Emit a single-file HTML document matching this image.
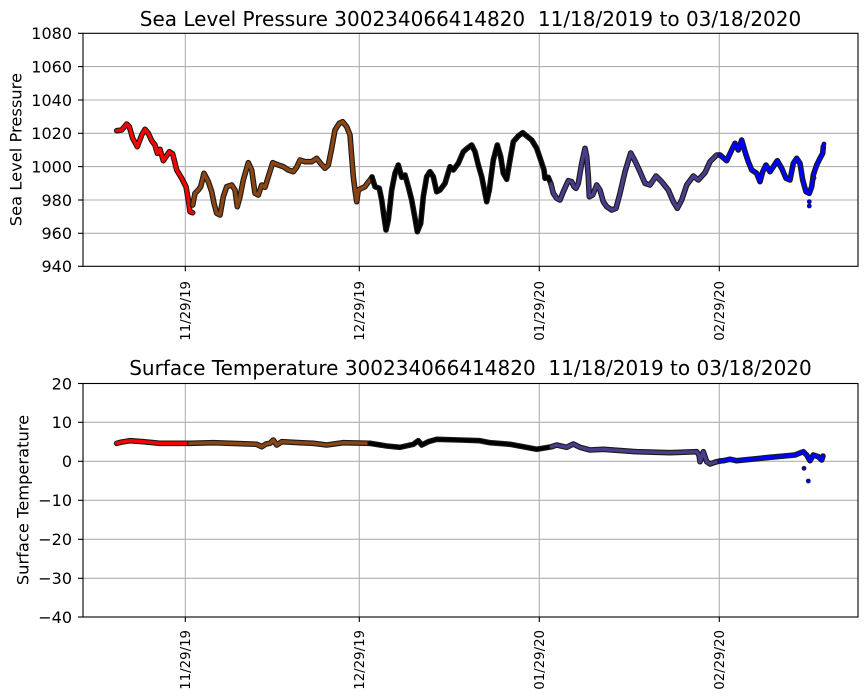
<!DOCTYPE html>
<html><head><meta charset="utf-8"><style>
html,body{margin:0;padding:0;background:#fff;}
svg{display:block;}
text{font-family:"DejaVu Sans","Liberation Sans",sans-serif;fill:#000;}
.g{stroke:#b0b0b0;stroke-width:1.1;}
.ax{fill:none;stroke:#000;stroke-width:1.1;}
.tk{stroke:#000;stroke-width:1.1;}
.yt{font-size:16px;text-anchor:end;}
.xt{font-size:13.3px;text-anchor:end;}
.o{fill:none;stroke:#1a1a1a;stroke-width:5.6;stroke-linejoin:round;stroke-linecap:round;}
.i{fill:none;stroke-width:3.4;stroke-linejoin:round;stroke-linecap:round;}
</style></head><body>
<svg width="867" height="700" viewBox="0 0 867 700" xmlns="http://www.w3.org/2000/svg">
<!-- ============ TOP AXES ============ -->
<g>
<line class="g" x1="83" y1="66.6" x2="858" y2="66.6"/>
<line class="g" x1="83" y1="100" x2="858" y2="100"/>
<line class="g" x1="83" y1="133.3" x2="858" y2="133.3"/>
<line class="g" x1="83" y1="166.6" x2="858" y2="166.6"/>
<line class="g" x1="83" y1="200" x2="858" y2="200"/>
<line class="g" x1="83" y1="233.3" x2="858" y2="233.3"/>
<line class="g" x1="185.3" y1="33.3" x2="185.3" y2="266.3"/>
<line class="g" x1="359.3" y1="33.3" x2="359.3" y2="266.3"/>
<line class="g" x1="539.3" y1="33.3" x2="539.3" y2="266.3"/>
<line class="g" x1="719.3" y1="33.3" x2="719.3" y2="266.3"/>

<!-- pressure series -->
<polyline class="o" points="116.7,130.7 121.7,130 126.7,124 129.3,126.7 132.7,138.3 137.3,146.7 141.7,135 145,129.3 148.3,133.3 151.7,140.7 155,145 157.3,153.3 160,149.3 163.3,160.7 166,156.7 169.3,151.7 172.7,154 176.7,170 181.7,178.3 186,186.7 188.3,200 190,211.7 192.7,212.7"/>
<polyline class="i" stroke="#ff0000" points="116.7,130.7 121.7,130 126.7,124 129.3,126.7 132.7,138.3 137.3,146.7 141.7,135 145,129.3 148.3,133.3 151.7,140.7 155,145 157.3,153.3 160,149.3 163.3,160.7 166,156.7 169.3,151.7 172.7,154 176.7,170 181.7,178.3 186,186.7 188.3,200 190,211.7 192.7,212.7"/>

<polyline class="o" points="192.7,205 195,193.3 198.3,190 200.7,186.7 204,173.3 208.3,181.7 211.7,191.7 214,203.3 216.7,213.3 220,215 223.3,196.7 226.7,186.7 231.7,185 235,190 237.3,206.7 240,196.7 243.3,180 248.3,162.7 251.7,170 255,193.3 258.3,195 261.7,185 265,187.3 268.3,176.7 272.7,162.7 278.3,165 283.3,166.7 288.3,170 293.3,171.7 296.7,167.3 300,160 305,161.7 311.7,161.7 316.7,158.3 320,162.7 325,168.3 328.3,165 331.7,148.3 335,130 339.3,123.3 342.7,121.7 346.7,126.7 350,135 351.7,156.7 353.3,176.7 355,190 356.7,201.7 358.3,190 361.7,188.3 365,186.7 367.3,183.3 370,180 372,177"/>
<polyline class="i" stroke="#8b4513" points="192.7,205 195,193.3 198.3,190 200.7,186.7 204,173.3 208.3,181.7 211.7,191.7 214,203.3 216.7,213.3 220,215 223.3,196.7 226.7,186.7 231.7,185 235,190 237.3,206.7 240,196.7 243.3,180 248.3,162.7 251.7,170 255,193.3 258.3,195 261.7,185 265,187.3 268.3,176.7 272.7,162.7 278.3,165 283.3,166.7 288.3,170 293.3,171.7 296.7,167.3 300,160 305,161.7 311.7,161.7 316.7,158.3 320,162.7 325,168.3 328.3,165 331.7,148.3 335,130 339.3,123.3 342.7,121.7 346.7,126.7 350,135 351.7,156.7 353.3,176.7 355,190 356.7,201.7 358.3,190 361.7,188.3 365,186.7 367.3,183.3 370,180 372,177"/>

<polyline class="o" points="372,177 375,186.7 379.3,188.3 381.7,200 384,216.7 386,230 388.3,220 391.7,190 395,173.3 398.3,165 401.7,177.3 405,175 408.3,186.7 411.7,200 415,218.3 417.3,231.7 420.7,223.3 423.3,196.7 426.7,176.7 430,171.7 433.3,176.7 436.7,191.7 440,190 445,183.3 450,166.7 453.3,170 458.3,163.3 463.3,151.7 467.3,148.3 471.7,145 475,151.7 478.3,165 481.7,176.7 486.7,201.7 489.3,190 493.3,160 497.3,145 500.7,156.7 503.3,173.3 506.7,179.3 510,160 513.3,141.7 518.3,136 522.7,132.7 526.7,136 531.7,140 536.7,148.3 540.7,160 544,170 545,178.3 548.3,177.3 551,184"/>
<polyline class="i" stroke="#000000" points="372,177 375,186.7 379.3,188.3 381.7,200 384,216.7 386,230 388.3,220 391.7,190 395,173.3 398.3,165 401.7,177.3 405,175 408.3,186.7 411.7,200 415,218.3 417.3,231.7 420.7,223.3 423.3,196.7 426.7,176.7 430,171.7 433.3,176.7 436.7,191.7 440,190 445,183.3 450,166.7 453.3,170 458.3,163.3 463.3,151.7 467.3,148.3 471.7,145 475,151.7 478.3,165 481.7,176.7 486.7,201.7 489.3,190 493.3,160 497.3,145 500.7,156.7 503.3,173.3 506.7,179.3 510,160 513.3,141.7 518.3,136 522.7,132.7 526.7,136 531.7,140 536.7,148.3 540.7,160 544,170 545,178.3 548.3,177.3 551,184"/>

<polyline class="o" points="551,184 553.3,193.3 556.7,198.3 560,200 563.3,191.7 568.3,180.7 571.7,181.7 574,186.7 576,188.3 578.3,183.3 581.7,163.3 585,148.3 586.7,156.7 588.3,176.7 589.3,196.7 592.7,195 596.7,185 600,190 603.3,201.7 606.7,206.7 611.7,210 616,208.3 620,193.3 625,171.7 630.7,153 635,161 640,171.7 645,183.3 650,185 656,176 661.7,181.7 668.3,190 673.3,201.7 677.3,208.3 681.7,200 686.7,185 693.3,176 698.3,180 705,172.7 710,161.7 716.7,155 720,155"/>
<polyline class="i" stroke="#483d8b" points="551,184 553.3,193.3 556.7,198.3 560,200 563.3,191.7 568.3,180.7 571.7,181.7 574,186.7 576,188.3 578.3,183.3 581.7,163.3 585,148.3 586.7,156.7 588.3,176.7 589.3,196.7 592.7,195 596.7,185 600,190 603.3,201.7 606.7,206.7 611.7,210 616,208.3 620,193.3 625,171.7 630.7,153 635,161 640,171.7 645,183.3 650,185 656,176 661.7,181.7 668.3,190 673.3,201.7 677.3,208.3 681.7,200 686.7,185 693.3,176 698.3,180 705,172.7 710,161.7 716.7,155 720,155"/>

<polyline class="o" points="720,155 726.7,160.7 731.7,150 735,143.3 738.3,150 741.7,140 745,151.7 748.3,161.7 751.7,170 756.7,173.3 760,181.7 762.7,171.7 766,165 770,171.7 773.3,166.7 777.3,160.7 781.7,168.3 786,178.3 790,180 793.3,163.3 796.7,158.3 800,163.3 802.7,180 806,191.7 809.3,193.3 811.7,186.7 813.3,175 816.7,165 820,158.3 822.7,153.3 823.3,146.7"/>
<polyline class="i" stroke="#0000ff" points="720,155 726.7,160.7 731.7,150 735,143.3 738.3,150 741.7,140 745,151.7 748.3,161.7 751.7,170 756.7,173.3 760,181.7 762.7,171.7 766,165 770,171.7 773.3,166.7 777.3,160.7 781.7,168.3 786,178.3 790,180 793.3,163.3 796.7,158.3 800,163.3 802.7,180 806,191.7 809.3,193.3 811.7,186.7 813.3,175 816.7,165 820,158.3 822.7,153.3 823.3,146.7"/>
<g fill="#0000ff" stroke="#1a1a1a" stroke-width="0.8">
<circle cx="809.3" cy="201.7" r="2"/><circle cx="809.3" cy="206" r="2"/>
<circle cx="814" cy="178" r="2"/><circle cx="824" cy="144" r="2"/>
</g>

<rect class="ax" x="83" y="33.3" width="775" height="233"/>
<!-- y ticks -->
<g class="tk">
<line x1="78" y1="33.3" x2="83" y2="33.3"/><line x1="78" y1="66.6" x2="83" y2="66.6"/>
<line x1="78" y1="100" x2="83" y2="100"/><line x1="78" y1="133.3" x2="83" y2="133.3"/>
<line x1="78" y1="166.6" x2="83" y2="166.6"/><line x1="78" y1="200" x2="83" y2="200"/>
<line x1="78" y1="233.3" x2="83" y2="233.3"/><line x1="78" y1="266.3" x2="83" y2="266.3"/>
<line x1="185.3" y1="266.3" x2="185.3" y2="271.3"/><line x1="359.3" y1="266.3" x2="359.3" y2="271.3"/>
<line x1="539.3" y1="266.3" x2="539.3" y2="271.3"/><line x1="719.3" y1="266.3" x2="719.3" y2="271.3"/>
</g>
<g class="yt">
<text x="72" y="39.1">1080</text><text x="72" y="72.4">1060</text>
<text x="72" y="105.8">1040</text><text x="72" y="139.1">1020</text>
<text x="72" y="172.4">1000</text><text x="72" y="205.8">980</text>
<text x="72" y="239.1">960</text><text x="72" y="272.1">940</text>
</g>
<g class="xt">
<text transform="translate(190.2,281) rotate(-90)">11/29/19</text>
<text transform="translate(364.2,281) rotate(-90)">12/29/19</text>
<text transform="translate(544.2,281) rotate(-90)">01/29/20</text>
<text transform="translate(724.2,281) rotate(-90)">02/29/20</text>
</g>
<text transform="translate(21.7,149.6) rotate(-90)" font-size="16.3" text-anchor="middle">Sea Level Pressure</text>
<text x="470.5" y="26" font-size="20" text-anchor="middle" xml:space="preserve">Sea Level Pressure 300234066414820  11/18/2019 to 03/18/2020</text>
</g>

<!-- ============ BOTTOM AXES ============ -->
<g>
<line class="g" x1="83" y1="422.3" x2="858" y2="422.3"/>
<line class="g" x1="83" y1="461.3" x2="858" y2="461.3"/>
<line class="g" x1="83" y1="500.3" x2="858" y2="500.3"/>
<line class="g" x1="83" y1="539.3" x2="858" y2="539.3"/>
<line class="g" x1="83" y1="578.3" x2="858" y2="578.3"/>
<line class="g" x1="185.3" y1="383.5" x2="185.3" y2="617"/>
<line class="g" x1="359.3" y1="383.5" x2="359.3" y2="617"/>
<line class="g" x1="539.3" y1="383.5" x2="539.3" y2="617"/>
<line class="g" x1="719.3" y1="383.5" x2="719.3" y2="617"/>

<polyline class="o" points="116.7,443.3 122,442 130,440.7 143.3,441.7 160,443.3 190,443.3"/>
<polyline class="i" stroke="#ff0000" points="116.7,443.3 122,442 130,440.7 143.3,441.7 160,443.3 190,443.3"/>
<polyline class="o" points="190,443.3 213.3,442.7 256.7,444.3 261.7,446.7 266,444 270,443.3 273.3,440 276.7,445 281.7,441.7 300,442.7 313.3,443.3 326.7,445 343.3,442.7 370,443.3"/>
<polyline class="i" stroke="#8b4513" points="190,443.3 213.3,442.7 256.7,444.3 261.7,446.7 266,444 270,443.3 273.3,440 276.7,445 281.7,441.7 300,442.7 313.3,443.3 326.7,445 343.3,442.7 370,443.3"/>
<polyline class="o" points="370,443.3 386.7,446 400,447.3 413.3,444.3 418.3,440.7 421.7,445 428.3,441.7 436.7,439.3 460,440 480,440.7 490,442.7 510,444.3 536.7,449.3 551.7,446.7"/>
<polyline class="i" stroke="#000000" points="370,443.3 386.7,446 400,447.3 413.3,444.3 418.3,440.7 421.7,445 428.3,441.7 436.7,439.3 460,440 480,440.7 490,442.7 510,444.3 536.7,449.3 551.7,446.7"/>
<polyline class="o" points="551.7,446.7 556.7,445 566.7,447.3 573.3,444 580,447.3 590,450 603.3,449.3 636.7,451.7 670,452.7 696.7,451.7 699,455 700,461.7 703.3,451.7 706.7,461.7 710,464 716.7,461.7 720,461"/>
<polyline class="i" stroke="#483d8b" points="551.7,446.7 556.7,445 566.7,447.3 573.3,444 580,447.3 590,450 603.3,449.3 636.7,451.7 670,452.7 696.7,451.7 699,455 700,461.7 703.3,451.7 706.7,461.7 710,464 716.7,461.7 720,461"/>
<polyline class="o" points="720,461 723.3,460.7 730,459.3 736.7,460.7 770,457.3 795,455 803.3,451.7 806.7,455 810,460.7 813.3,455 818.3,456.7 821.7,460 823,456"/>
<polyline class="i" stroke="#0000ff" points="720,461 723.3,460.7 730,459.3 736.7,460.7 770,457.3 795,455 803.3,451.7 806.7,455 810,460.7 813.3,455 818.3,456.7 821.7,460 823,456"/>
<g fill="#0000ff" stroke="#1a1a1a" stroke-width="0.8">
<circle cx="804" cy="468.3" r="2"/><circle cx="808.3" cy="481" r="2"/>
</g>

<rect class="ax" x="83" y="383.5" width="775" height="233.5"/>
<g class="tk">
<line x1="78" y1="383.5" x2="83" y2="383.5"/><line x1="78" y1="422.3" x2="83" y2="422.3"/>
<line x1="78" y1="461.3" x2="83" y2="461.3"/><line x1="78" y1="500.3" x2="83" y2="500.3"/>
<line x1="78" y1="539.3" x2="83" y2="539.3"/><line x1="78" y1="578.3" x2="83" y2="578.3"/>
<line x1="78" y1="617" x2="83" y2="617"/>
<line x1="185.3" y1="617" x2="185.3" y2="622"/><line x1="359.3" y1="617" x2="359.3" y2="622"/>
<line x1="539.3" y1="617" x2="539.3" y2="622"/><line x1="719.3" y1="617" x2="719.3" y2="622"/>
</g>
<g class="yt">
<text x="72" y="389.3">20</text><text x="72" y="428.1">10</text>
<text x="72" y="467.1">0</text><text x="72" y="506.1">−10</text>
<text x="72" y="545.1">−20</text><text x="72" y="584.1">−30</text>
<text x="72" y="622.8">−40</text>
</g>
<g class="xt">
<text transform="translate(190.2,630) rotate(-90)">11/29/19</text>
<text transform="translate(364.2,630) rotate(-90)">12/29/19</text>
<text transform="translate(544.2,630) rotate(-90)">01/29/20</text>
<text transform="translate(724.2,630) rotate(-90)">02/29/20</text>
</g>
<text transform="translate(28.3,500) rotate(-90)" font-size="16.3" text-anchor="middle">Surface Temperature</text>
<text x="470.5" y="375" font-size="20" text-anchor="middle" xml:space="preserve">Surface Temperature 300234066414820  11/18/2019 to 03/18/2020</text>
</g>
</svg>
</body></html>
